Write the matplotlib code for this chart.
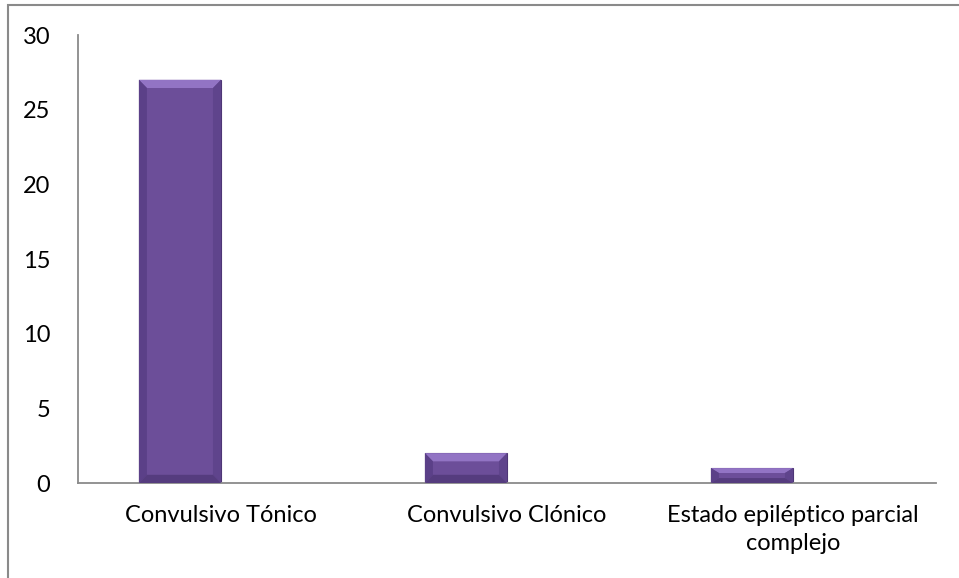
import numpy as np
import matplotlib.pyplot as plt
from matplotlib.patches import Polygon, Rectangle

categories = ['Convulsivo Tónico', 'Convulsivo Clónico', 'Estado epiléptico parcial\ncomplejo']
values = [27, 2, 1]
yticks = [0, 5, 10, 15, 20, 25, 30]

plt.rcParams['font.family'] = ['Lato', 'DejaVu Sans']

fig = plt.figure(figsize=(9.59, 5.78), dpi=100)
ax = fig.add_axes([78 / 959, 95 / 578, 858 / 959, 448 / 578])

# bars sit in the left half of each category slot
w = 0.287
pos = np.arange(len(values)) - w / 2
bars = ax.bar(pos, values, width=w, color='#6c4e99', edgecolor='#4e3676', linewidth=0.8, zorder=2)

# bevelled look: lighter top, darker sides
bx = 0.028
for b in bars:
    x0, bw, h = b.get_x(), b.get_width(), b.get_height()
    x1 = x0 + bw
    by = min(0.55, h * 0.33)
    ax.add_patch(Polygon([(x0, h), (x1, h), (x1 - bx, h - by), (x0 + bx, h - by)],
                         closed=True, color='#9274c4', lw=0, zorder=3))
    ax.add_patch(Polygon([(x0, 0), (x0 + bx, by), (x0 + bx, h - by), (x0, h)],
                         closed=True, color='#5b4088', lw=0, zorder=3))
    ax.add_patch(Polygon([(x1, 0), (x1 - bx, by), (x1 - bx, h - by), (x1, h)],
                         closed=True, color='#5f448c', lw=0, zorder=3))
    ax.add_patch(Polygon([(x0, 0), (x1, 0), (x1 - bx, by), (x0 + bx, by)],
                         closed=True, color='#553c7e', lw=0, zorder=3))

ax.set_xlim(-0.5, len(values) - 0.5)
ax.set_ylim(0, 30)
ax.set_yticks(yticks)
ax.set_xticks(range(len(values)))
ax.set_xticklabels(categories, linespacing=1.4, va='top')
ax.tick_params(length=0, labelsize=17, pad=16)
ax.tick_params(axis='y', pad=20)
for s in ['top', 'right']:
    ax.spines[s].set_visible(False)
for s in ['left', 'bottom']:
    ax.spines[s].set_color('#8a8a8a')
    ax.spines[s].set_linewidth(1.3)

fig.patches.append(Rectangle((8 / 959, -0.02), 1.0, 1 - 5 / 578 + 0.02, transform=fig.transFigure,
                             fill=False, edgecolor='#8a8a8a', lw=1.5))

fig.savefig('out.png', dpi=100)
